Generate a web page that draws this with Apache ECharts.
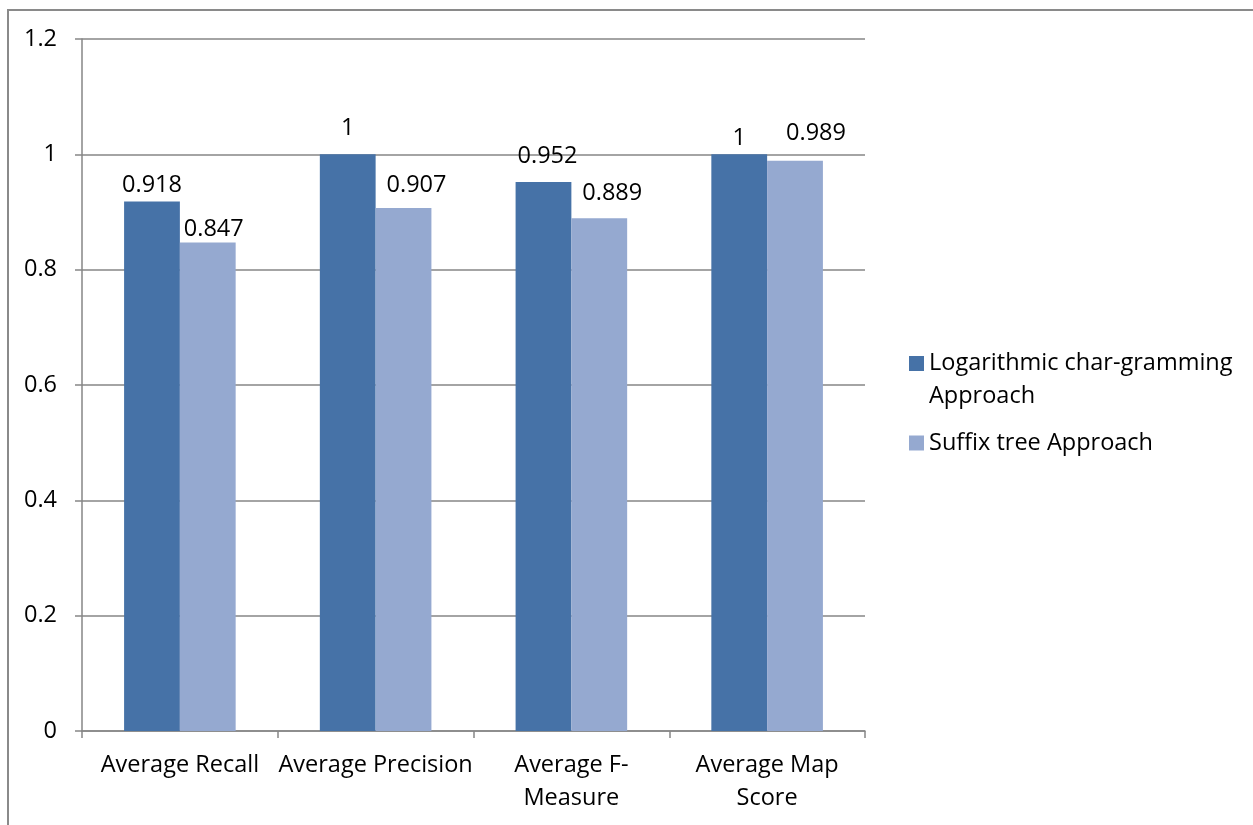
<!DOCTYPE html>
<html>
<head>
<meta charset="utf-8">
<script src="https://cdn.jsdelivr.net/npm/echarts@6/dist/echarts.min.js"></script>
<style>
  html, body { margin: 0; padding: 0; background: #fff; }
  #frame { position: absolute; left: 7px; top: 9px; right: -2px; bottom: -2px;
           border-left: 2px solid #8a8a8a; border-top: 2px solid #8a8a8a; box-sizing: border-box; }
  #chart { position: absolute; left: 0; top: 0; width: 1253px; height: 825px; }
</style>
</head>
<body>
<div id="frame"></div>
<div id="chart"></div>
<script>
// Categories and measured scores for both approaches
const categories = ['Average Recall', 'Average Precision', 'Average F-\nMeasure', 'Average Map\nScore'];
const logCharGramming = [0.918, 1, 0.952, 1];
const suffixTree = [0.847, 0.907, 0.889, 0.989];
const yTicks = { min: 0, max: 1.2, interval: 0.2 };
const seriesNames = ['Logarithmic char-gramming\nApproach', 'Suffix tree Approach'];

// Small nudges for the value labels [dx, dy]
const nudgeLog = [[0, -4], [0, -14], [4, -14], [0, -4]];
const nudgeSuffix = [[6, -1], [13, -11], [13, -13], [21, -15]];

const FONT = 'Open Sans';
const FS = 23.5;

// Legend swatch for the two-line entry: a square at the top of a taller box,
// so it sits beside the first text line.
const tallSwatch = 'path://M0,0H15V15H0Z M0,48L0.01,48';

function withLabels(values, nudges) {
  return values.map((v, i) => ({
    value: v,
    label: { offset: [nudges[i][0], nudges[i][1]] }
  }));
}

const chart = echarts.init(document.getElementById('chart'), null, { renderer: 'canvas' });
chart.setOption({
  animation: false,
  textStyle: { fontFamily: FONT },
  grid: { left: 82, right: 388, top: 39, bottom: 94, containLabel: false },
  legend: [
    {
      data: [{ name: seriesNames[0], icon: tallSwatch }],
      orient: 'vertical', left: 904, top: 342,
      itemWidth: 15, itemHeight: 48,
      textStyle: { fontFamily: FONT, fontSize: FS, color: '#000', lineHeight: 33 },
      selectedMode: false
    },
    {
      data: [{ name: seriesNames[1], icon: 'rect' }],
      orient: 'vertical', left: 904, top: 426,
      itemWidth: 15, itemHeight: 15,
      textStyle: { fontFamily: FONT, fontSize: FS, color: '#000' },
      selectedMode: false
    }
  ],
  xAxis: {
    type: 'category',
    data: categories,
    axisLine: { lineStyle: { color: '#868686', width: 1.5 } },
    axisTick: { show: true, length: 7, lineStyle: { color: '#868686', width: 1.5 } },
    axisLabel: { color: '#000', fontSize: FS, fontFamily: FONT, lineHeight: 33, margin: 18, interval: 0 }
  },
  yAxis: {
    type: 'value',
    min: yTicks.min, max: yTicks.max, interval: yTicks.interval,
    axisLine: { show: true, lineStyle: { color: '#868686', width: 1.5 } },
    axisTick: { show: true, length: 7, lineStyle: { color: '#868686', width: 1.5 } },
    splitLine: { lineStyle: { color: '#868686', width: 1.5 } },
    axisLabel: { color: '#000', fontSize: FS, fontFamily: FONT, margin: 25,
      formatter: v => String(Math.round(v * 10) / 10) }
  },
  series: [
    {
      name: seriesNames[0], type: 'bar',
      data: withLabels(logCharGramming, nudgeLog),
      barGap: '0%', barCategoryGap: '43%',
      itemStyle: { color: '#4672A7' },
      label: { show: true, position: 'top', distance: 0, lineHeight: 24, color: '#000', fontSize: FS, fontFamily: FONT }
    },
    {
      name: seriesNames[1], type: 'bar',
      data: withLabels(suffixTree, nudgeSuffix),
      barGap: '0%', barCategoryGap: '43%',
      itemStyle: { color: '#95A9D0' },
      label: { show: true, position: 'top', distance: 0, lineHeight: 24, color: '#000', fontSize: FS, fontFamily: FONT }
    }
  ]
});
</script>
</body>
</html>
